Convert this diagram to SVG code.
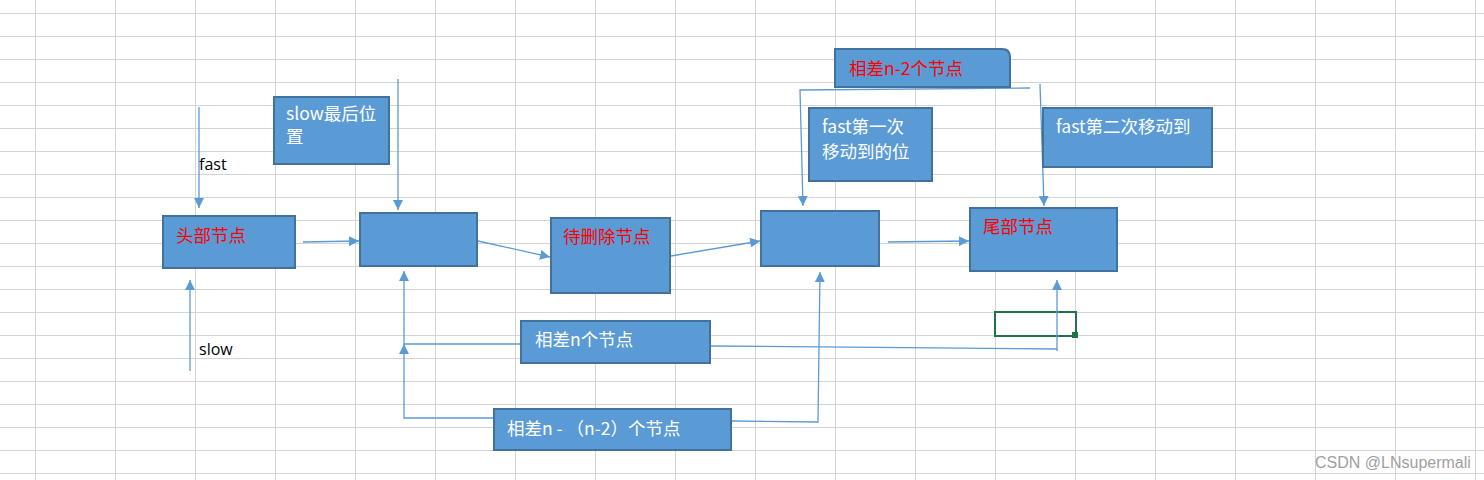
<svg xmlns="http://www.w3.org/2000/svg" width="1484" height="480" viewBox="0 0 1484 480">
<defs>
<style>
.grid line{stroke:#d4d4d4;stroke-width:1}
.box{fill:#5b9bd5;stroke:#41719c;stroke-width:2}
.t{font-family:"Noto Sans CJK SC","Microsoft YaHei",sans-serif;font-size:17.5px;fill:#ffffff}
.r{fill:#ff0000}
.lbl{font-family:"Open Sans","Liberation Sans",sans-serif;font-size:16px;fill:#000000}
.c{fill:none;stroke:#5b9bd5;stroke-width:1.3}
</style>
<marker id="ah" viewBox="0 0 10 10" refX="10" refY="5" markerWidth="10" markerHeight="10" markerUnits="userSpaceOnUse" orient="auto">
<path d="M0,0 L10,5 L0,10 Z" fill="#5b9bd5"/>
</marker>
</defs>
<rect width="1484" height="480" fill="#ffffff"/>
<g class="grid">
<line x1="35.5" y1="0" x2="35.5" y2="480"/><line x1="115.5" y1="0" x2="115.5" y2="480"/><line x1="195.5" y1="0" x2="195.5" y2="480"/><line x1="275.5" y1="0" x2="275.5" y2="480"/><line x1="355.5" y1="0" x2="355.5" y2="480"/><line x1="435.5" y1="0" x2="435.5" y2="480"/><line x1="515.5" y1="0" x2="515.5" y2="480"/><line x1="595.5" y1="0" x2="595.5" y2="480"/><line x1="675.5" y1="0" x2="675.5" y2="480"/><line x1="755.5" y1="0" x2="755.5" y2="480"/><line x1="835.5" y1="0" x2="835.5" y2="480"/><line x1="915.5" y1="0" x2="915.5" y2="480"/><line x1="995.5" y1="0" x2="995.5" y2="480"/><line x1="1075.5" y1="0" x2="1075.5" y2="480"/><line x1="1155.5" y1="0" x2="1155.5" y2="480"/><line x1="1235.5" y1="0" x2="1235.5" y2="480"/><line x1="1315.5" y1="0" x2="1315.5" y2="480"/><line x1="1395.5" y1="0" x2="1395.5" y2="480"/><line x1="1475.5" y1="0" x2="1475.5" y2="480"/>
<line x1="0" y1="13.5" x2="1484" y2="13.5"/><line x1="0" y1="36.5" x2="1484" y2="36.5"/><line x1="0" y1="59.5" x2="1484" y2="59.5"/><line x1="0" y1="82.5" x2="1484" y2="82.5"/><line x1="0" y1="105.5" x2="1484" y2="105.5"/><line x1="0" y1="128.5" x2="1484" y2="128.5"/><line x1="0" y1="151.5" x2="1484" y2="151.5"/><line x1="0" y1="174.5" x2="1484" y2="174.5"/><line x1="0" y1="197.5" x2="1484" y2="197.5"/><line x1="0" y1="220.5" x2="1484" y2="220.5"/><line x1="0" y1="243.5" x2="1484" y2="243.5"/><line x1="0" y1="266.5" x2="1484" y2="266.5"/><line x1="0" y1="289.5" x2="1484" y2="289.5"/><line x1="0" y1="312.5" x2="1484" y2="312.5"/><line x1="0" y1="335.5" x2="1484" y2="335.5"/><line x1="0" y1="358.5" x2="1484" y2="358.5"/><line x1="0" y1="381.5" x2="1484" y2="381.5"/><line x1="0" y1="404.5" x2="1484" y2="404.5"/><line x1="0" y1="427.5" x2="1484" y2="427.5"/><line x1="0" y1="450.5" x2="1484" y2="450.5"/><line x1="0" y1="473.5" x2="1484" y2="473.5"/>
</g>
<g id="selected-cell">
<rect x="995" y="312" width="81" height="24" fill="none" stroke="#217346" stroke-width="2"/>
<rect x="1072" y="332" width="6" height="6" fill="#217346"/>
</g>
<g id="connectors">
<path class="c" d="M199,107 L199,208" marker-end="url(#ah)"/>
<path class="c" d="M190,371 L190,280" marker-end="url(#ah)"/>
<path class="c" d="M303,242 L359,241" marker-end="url(#ah)"/>
<path class="c" d="M478,241 L550,257" marker-end="url(#ah)"/>
<path class="c" d="M671,256 L760,241" marker-end="url(#ah)"/>
<path class="c" d="M888,242 L969,241" marker-end="url(#ah)"/>
<path class="c" d="M398,79 L398,210" marker-end="url(#ah)"/>
<path class="c" d="M521,344 L404,344 L404,271" marker-end="url(#ah)"/>
<path class="c" d="M494,418 L404,418 L404,344" marker-end="url(#ah)"/>
<path class="c" d="M731,421 L818,422 L820,272" marker-end="url(#ah)"/>
<path class="c" d="M710,346 L1057,349 L1057,351 M1057,351 L1057,280" marker-end="url(#ah)"/>
<path class="c" d="M1030,88 L800,90 L803,206" marker-end="url(#ah)"/>
<path class="c" d="M1040,84 L1044,206" marker-end="url(#ah)"/>
</g>
<g id="label-fast"><text class="lbl" x="199" y="170">fast</text></g>
<g id="label-slow"><text class="lbl" x="199" y="355">slow</text></g>
<g id="head"><rect class="box" x="163" y="216" width="132" height="52"/><text class="t r" x="176" y="242">头部节点</text></g>
<g id="node2"><rect class="box" x="360" y="213" width="117" height="53"/></g>
<g id="to-delete"><rect class="box" x="551" y="218" width="119" height="75"/><text class="t r" x="563" y="243">待删除节点</text></g>
<g id="node4"><rect class="box" x="761" y="211" width="118" height="55"/></g>
<g id="tail"><rect class="box" x="970" y="208" width="147" height="63"/><text class="t r" x="983" y="233">尾部节点</text></g>
<g id="slow-last"><rect class="box" x="274" y="97" width="115" height="67"/><text class="t" x="286" y="120">slow最后位</text><text class="t" x="286" y="143">置</text></g>
<g id="diff-n2"><path class="box" d="M835,49 H1002 Q1010,49 1010,57 V87 H835 Z"/><text class="t r" x="849" y="75">相差n-2个节点</text></g>
<g id="fast-first"><rect class="box" x="809" y="108" width="123" height="73"/><text class="t" x="822" y="133">fast第一次</text><text class="t" x="822" y="158">移动到的位</text></g>
<g id="fast-second"><rect class="box" x="1043" y="108" width="169" height="59"/><text class="t" x="1056" y="133">fast第二次移动到</text></g>
<g id="diff-n"><rect class="box" x="521" y="321" width="189" height="42"/><text class="t" x="535" y="346">相差n个节点</text></g>
<g id="diff-n-n2"><rect class="box" x="494" y="409" width="237" height="41"/><text class="t" x="507" y="435">相差n - （n-2）个节点</text></g>
<text x="1315" y="468" font-family="Liberation Sans, Arial, sans-serif" font-size="16" fill="#a0a0a0">CSDN @LNsupermali</text>
</svg>
